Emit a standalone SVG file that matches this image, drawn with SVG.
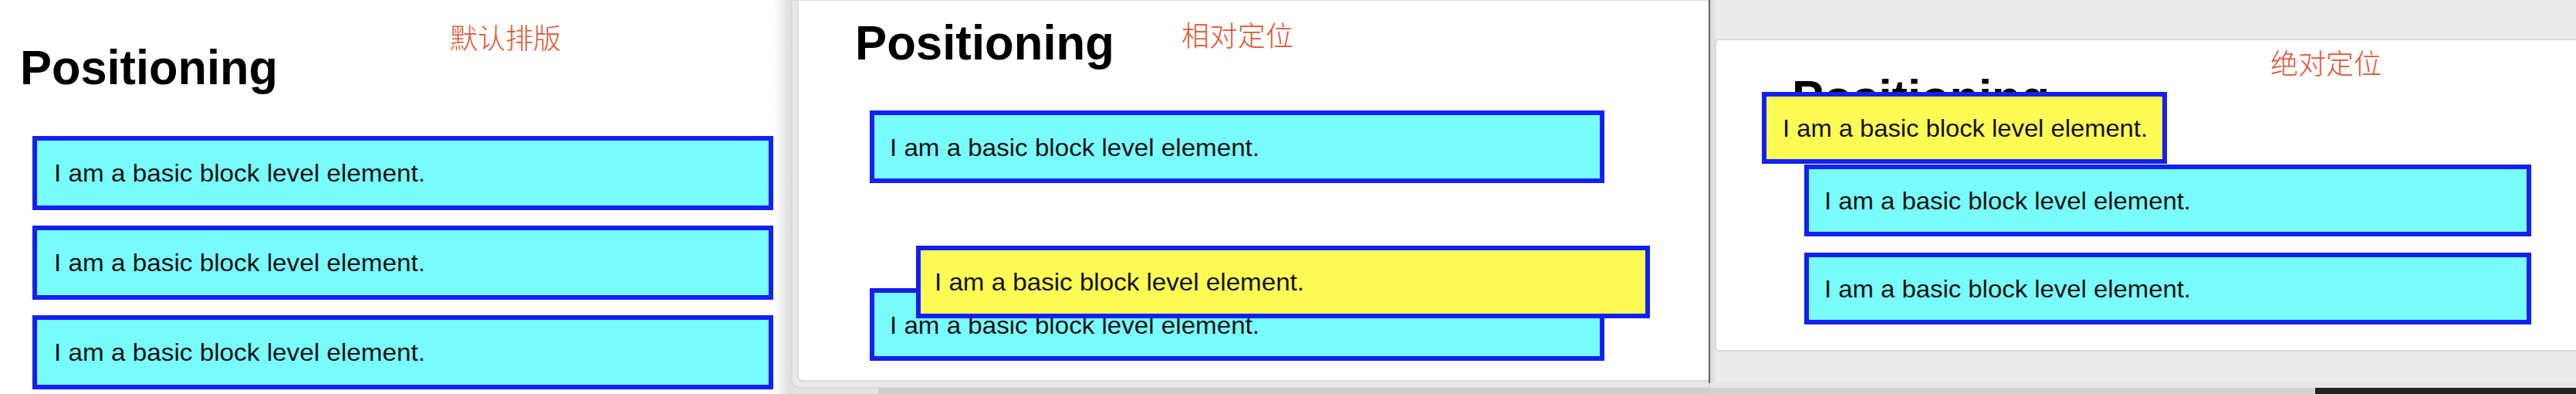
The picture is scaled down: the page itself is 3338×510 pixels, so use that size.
<svg xmlns="http://www.w3.org/2000/svg" width="3338" height="510" viewBox="0 0 3338 510">
<style>
.box{fill:#78fcfc;stroke:#1320f2;stroke-width:6}
.ybox{fill:#fefb55;stroke:#1320f2;stroke-width:6}
.t{font-family:"Liberation Sans",Arial,sans-serif;font-size:32px;fill:#111}
.h{font-family:"Liberation Sans",Arial,sans-serif;font-size:63px;font-weight:bold;fill:#000}
.cn{font-family:"Noto Sans CJK SC",sans-serif;font-size:36px;font-weight:300;fill:#e2552f}
</style>
<defs>
<linearGradient id="sh1" x1="0" y1="0" x2="1" y2="0">
<stop offset="0" stop-color="#ffffff"/>
<stop offset="1" stop-color="#d9d9d9"/>
</linearGradient>
<linearGradient id="sh2" x1="0" y1="0" x2="1" y2="0">
<stop offset="0" stop-color="#d8d8d8"/>
<stop offset="1" stop-color="#ececec"/>
</linearGradient>
</defs>

<!-- backgrounds -->
<g id="background">
<rect x="0" y="0" width="3338" height="510" fill="#ffffff"/>
<rect x="1003" y="0" width="24" height="510" fill="url(#sh1)"/>
<rect x="1025" y="495" width="1190" height="15" fill="#e3e3e3"/>
<rect x="1138" y="502" width="1077" height="8" fill="#cfcfcf"/>
<rect x="2216" y="0" width="1122" height="495" fill="#ebebeb"/>
<rect x="2216" y="0" width="10" height="495" fill="url(#sh2)"/>
<rect x="2215" y="495" width="1123" height="8" fill="#e6e6e6"/>
<rect x="2215" y="502" width="785" height="8" fill="#d2d2d2"/>
<rect x="3000" y="502" width="338" height="8" fill="#222222"/>
<path d="M1026,0 V490 Q1026,502 1038,502 H2215 V0 Z" fill="#e9e9e9" stroke="#d6d6d6" stroke-width="1.5"/>
<path d="M1034,0 V486 Q1034,493 1041,493 H2215 V0 Z" fill="#ffffff" stroke="#d4d4d4" stroke-width="1.5"/>
<line x1="2215" y1="0" x2="2215" y2="496" stroke="#3a3a3a" stroke-width="1.5"/>
<rect x="2223" y="51" width="1120" height="403" rx="5" fill="#ffffff" stroke="#d0d0d0" stroke-width="1.5"/>
</g>

<!-- panel 1: default flow -->
<g id="panel1">
<text class="h" x="26" y="109" textLength="334" lengthAdjust="spacingAndGlyphs">Positioning</text>
<text class="cn" x="583" y="63" textLength="144">默认排版</text>
<g id="p1-box1"><rect class="box" x="45" y="179" width="954" height="90"/><text class="t" x="70" y="235" textLength="481" lengthAdjust="spacingAndGlyphs">I am a basic block level element.</text></g>
<g id="p1-box2"><rect class="box" x="45" y="295" width="954" height="90"/><text class="t" x="70" y="351" textLength="481" lengthAdjust="spacingAndGlyphs">I am a basic block level element.</text></g>
<g id="p1-box3"><rect class="box" x="45" y="411" width="954" height="90"/><text class="t" x="70" y="467" textLength="481" lengthAdjust="spacingAndGlyphs">I am a basic block level element.</text></g>
</g>

<!-- panel 2: relative -->
<g id="panel2">
<text class="h" x="1108" y="77" textLength="336" lengthAdjust="spacingAndGlyphs">Positioning</text>
<text class="cn" x="1531" y="60" textLength="145">相对定位</text>
<g id="p2-box1"><rect class="box" x="1130" y="146" width="946" height="88"/><text class="t" x="1153" y="202" textLength="479" lengthAdjust="spacingAndGlyphs">I am a basic block level element.</text></g>
<g id="p2-box2"><rect class="box" x="1130" y="376" width="946" height="88"/><text class="t" x="1153" y="432" textLength="479" lengthAdjust="spacingAndGlyphs">I am a basic block level element.</text></g>
<g id="p2-box-yellow"><rect class="ybox" x="1190" y="321" width="945" height="88"/><text class="t" x="1211" y="376" textLength="479" lengthAdjust="spacingAndGlyphs">I am a basic block level element.</text></g>
</g>

<!-- panel 3: absolute -->
<g id="panel3">
<text class="h" x="2322" y="148" textLength="334" lengthAdjust="spacingAndGlyphs">Positioning</text>
<text class="cn" x="2942" y="96" textLength="144">绝对定位</text>
<g id="p3-box1"><rect class="box" x="2341" y="216" width="936" height="87"/><text class="t" x="2364" y="271" textLength="475" lengthAdjust="spacingAndGlyphs">I am a basic block level element.</text></g>
<g id="p3-box2"><rect class="box" x="2341" y="330" width="936" height="87"/><text class="t" x="2364" y="385" textLength="475" lengthAdjust="spacingAndGlyphs">I am a basic block level element.</text></g>
<g id="p3-box-yellow"><rect class="ybox" x="2286" y="122" width="519" height="87"/><text class="t" x="2310" y="177" textLength="473" lengthAdjust="spacingAndGlyphs">I am a basic block level element.</text></g>
</g>

<g id="connectors"/>
</svg>
